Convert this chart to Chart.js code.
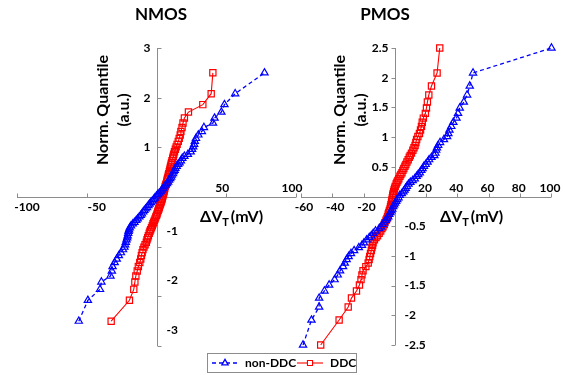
<!DOCTYPE html>
<html>
<head>
<meta charset="utf-8">
<script src="https://cdn.jsdelivr.net/npm/chart.js@4.4.1/dist/chart.umd.min.js"></script>
<style>
  html, body { margin: 0; padding: 0; background: #fff; }
  #wrap { position: relative; width: 565px; height: 375px; }
  #wrap canvas { position: absolute; left: 0; top: 0; }
</style>
</head>
<body>
<div id="wrap">
  <canvas id="nmos" width="565" height="375"></canvas>
  <canvas id="pmos" width="565" height="375"></canvas>
</div>
<script>
// normal quantiles (a.u.), shared by all four series, lowest first
const quantile = [
  -2.50, -2.08, -1.86, -1.71, -1.59, -1.49, -1.40, -1.32, -1.25, -1.18,
  -1.12, -1.06, -1.01, -0.96, -0.91, -0.86, -0.82, -0.78, -0.73, -0.69,
  -0.66, -0.62, -0.58, -0.54, -0.51, -0.47, -0.44, -0.40, -0.37, -0.34,
  -0.30, -0.27, -0.24, -0.21, -0.17, -0.14, -0.11, -0.08, -0.05, -0.02,
  0.02, 0.05, 0.08, 0.11, 0.14, 0.17, 0.21, 0.24, 0.27, 0.30,
  0.34, 0.37, 0.40, 0.44, 0.47, 0.51, 0.54, 0.58, 0.62, 0.66,
  0.69, 0.73, 0.78, 0.82, 0.86, 0.91, 0.96, 1.01, 1.06, 1.12,
  1.18, 1.25, 1.32, 1.40, 1.49, 1.59, 1.71, 1.86, 2.08, 2.50
];

// delta VT in mV, sorted, one per quantile
const nmosNonDdc = [
  -55.7, -49.2, -40.5, -39.5, -33.0, -32.0, -31.5, -30.0, -28.5, -27.0,
  -25.5, -24.0, -23.0, -22.5, -22.0, -21.5, -21.0, -20.7, -20.3, -20.0,
  -19.7, -19.2, -18.3, -17.0, -15.8, -14.5, -13.5, -12.3, -11.3, -10.5,
  -9.5, -8.7, -7.8, -6.8, -5.8, -5.0, -4.0, -3.0, -2.0, -1.2,
  0.0, 1.0, 2.0, 3.0, 3.8, 4.8, 5.5, 6.5, 7.5, 8.3,
  9.0, 9.8, 10.5, 11.0, 11.8, 12.3, 13.0, 13.5, 14.5, 15.5,
  16.5, 17.5, 18.5, 20.0, 22.5, 24.5, 25.5, 26.3, 27.0, 27.5,
  28.3, 30.0, 32.5, 34.0, 40.5, 41.6, 46.5, 48.7, 56.4, 77.4
];
const nmosDdc = [
  -32.5, -19.4, -16.3, -15.5, -14.8, -13.8, -13.0, -12.0, -11.3, -10.8,
  -10.3, -9.7, -9.0, -8.2, -7.3, -6.8, -6.3, -5.8, -5.2, -4.7,
  -4.2, -3.6, -3.0, -2.5, -2.0, -1.5, -1.0, -0.5, 0.0, 0.4,
  0.8, 1.2, 1.6, 2.0, 2.4, 2.8, 3.2, 3.5, 3.9, 4.2,
  4.5, 4.8, 5.1, 5.4, 5.6, 5.9, 6.2, 6.6, 7.0, 7.3,
  7.6, 7.9, 8.2, 8.5, 8.8, 9.2, 9.5, 9.8, 10.1, 10.5,
  10.8, 11.1, 11.6, 12.0, 12.4, 12.9, 13.5, 14.1, 14.8, 15.6,
  16.3, 17.0, 17.5, 18.3, 19.0, 20.0, 22.9, 33.2, 39.2, 40.4
];
const pmosNonDdc = [
  -58.7, -53.3, -48.4, -48.4, -45.0, -42.0, -38.5, -36.5, -35.0, -33.1,
  -32.0, -30.8, -29.5, -28.0, -26.0, -23.0, -21.0, -19.7, -18.0, -16.3,
  -15.0, -13.8, -12.3, -10.0, -8.8, -7.8, -6.8, -5.8, -5.0, -4.2,
  -3.5, -2.8, -2.2, -1.6, -1.0, -0.4, 0.2, 0.9, 1.6, 2.4,
  3.2, 4.5, 5.5, 6.3, 7.0, 7.8, 8.8, 10.0, 11.5, 12.8,
  14.0, 15.0, 16.0, 17.0, 17.8, 18.7, 19.8, 21.0, 22.0, 23.5,
  25.3, 26.0, 26.5, 27.0, 27.8, 29.0, 31.5, 33.5, 34.3, 35.0,
  36.2, 37.5, 39.5, 40.5, 41.6, 44.2, 46.3, 48.0, 50.1, 100.3
];
const pmosDdc = [
  -47.4, -35.6, -29.8, -27.7, -24.5, -22.6, -21.6, -21.0, -20.3, -18.5,
  -17.0, -16.4, -16.0, -15.5, -15.0, -14.6, -14.2, -13.9, -13.0, -12.0,
  -11.0, -10.0, -9.0, -8.2, -7.5, -6.7, -6.3, -5.6, -5.0, -4.6,
  -4.2, -3.8, -3.4, -3.0, -2.7, -2.4, -2.1, -1.9, -1.7, -1.5,
  -1.3, -1.0, -0.7, -0.4, -0.1, 0.3, 0.9, 1.4, 2.0, 2.6,
  3.3, 3.9, 4.6, 5.2, 5.8, 6.5, 7.1, 7.8, 8.6, 9.3,
  9.9, 10.7, 11.6, 12.3, 13.0, 13.5, 14.0, 14.8, 15.8, 16.5,
  17.1, 17.6, 18.3, 19.6, 20.3, 20.9, 21.8, 23.5, 27.1, 28.8
];

const seriesNames = ['non-DDC', 'DDC'];

// axis ticks
const nmosXTicks = [-100, -50, 0, 50, 100];
const nmosYTicks = [-3, -2, -1, 0, 1, 2, 3];
const pmosXTicks = [-60, -40, -20, 0, 20, 40, 60, 80, 100];
const pmosYTicks = [-2.5, -2, -1.5, -1, -0.5, 0, 0.5, 1, 1.5, 2, 2.5];

const BLUE = '#0000ff';
const RED = '#ff0000';
const AXIS = '#8c8c8c';
const FONT = 'Lato, "Open Sans", sans-serif';

function pts(xs) {
  return quantile.map((q, i) => ({ x: xs[i], y: q }));
}

function datasets(nonDdc, ddc) {
  return [
    {
      label: seriesNames[0], data: pts(nonDdc), clip: false,
      showLine: true, borderColor: BLUE, borderWidth: 1.3, borderDash: [4, 3],
      pointStyle: 'triangle', pointRadius: 4.2, pointBorderWidth: 1.2,
      pointBorderColor: BLUE, pointBackgroundColor: 'rgba(0,0,0,0)'
    },
    {
      label: seriesNames[1], data: pts(ddc), clip: false,
      showLine: true, borderColor: RED, borderWidth: 1.1,
      pointStyle: 'rect', pointRadius: 4.4, pointBorderWidth: 1.2,
      pointBorderColor: RED, pointBackgroundColor: 'rgba(0,0,0,0)'
    }
  ];
}

function crisp(v) { return Math.round(v) + 0.5; }

// axes crossing at zero, drawn by hand so labels can sit either side
const crossAxes = {
  id: 'crossAxes',
  beforeDatasetsDraw(chart, args, o) {
    const ctx = chart.ctx, xs = chart.scales.x, ys = chart.scales.y;
    const x0 = crisp(xs.getPixelForValue(0));
    const y0 = crisp(ys.getPixelForValue(0));
    ctx.save();
    ctx.strokeStyle = AXIS;
    ctx.lineWidth = 1;
    ctx.beginPath();
    ctx.moveTo(Math.round(xs.left), y0); ctx.lineTo(Math.round(xs.right), y0);
    ctx.moveTo(x0, Math.round(ys.top)); ctx.lineTo(x0, Math.round(ys.bottom));
    o.xTicks.forEach(v => {
      const px = crisp(xs.getPixelForValue(v));
      ctx.moveTo(px, y0); ctx.lineTo(px, y0 - 4);
    });
    o.yTicks.forEach(v => {
      const py = crisp(ys.getPixelForValue(v));
      ctx.moveTo(x0, py); ctx.lineTo(x0 + o.yTickDir * 4, py);
    });
    ctx.stroke();

    ctx.fillStyle = '#000';
    ctx.font = 'bold 12px ' + FONT;
    ctx.textBaseline = 'middle';
    ctx.textAlign = 'center';
    o.xTicks.forEach(v => {
      if (v === 0) return;
      const px = xs.getPixelForValue(v);
      if (v < 0) ctx.fillText(String(v), px + o.negXShift, y0 + 10);
      else ctx.fillText(String(v), px + o.posXShift, y0 - 9);
    });
    o.yTicks.forEach(v => {
      if (v === 0) return;
      const py = ys.getPixelForValue(v);
      if (v > 0) {
        ctx.textAlign = 'right';
        ctx.fillText(String(v), x0 - 7, py);
      } else {
        ctx.textAlign = 'left';
        ctx.fillText(String(v), x0 + 9, py + o.negYShift);
      }
    });
    ctx.restore();
  },
  afterDraw(chart, args, o) {
    const ctx = chart.ctx;
    ctx.save();
    ctx.fillStyle = '#000';
    ctx.textBaseline = 'middle';

    ctx.font = 'bold 17px ' + FONT;
    ctx.textAlign = 'center';
    ctx.fillText(o.title, o.titleX, 15);

    // y title, two rotated lines
    ctx.font = 'bold 16px ' + FONT;
    ctx.save();
    ctx.translate(o.yTitleX, 110);
    ctx.rotate(-Math.PI / 2);
    ctx.fillText('Norm. Quantile', 0, 0);
    ctx.fillText('(a.u.)', 0, 21);
    ctx.restore();

    // x title with subscript T
    ctx.textAlign = 'left';
    let x = o.xTitleX;
    const y = 217;
    ctx.font = 'bold 16px ' + FONT;
    ctx.fillText('ΔV', x, y);
    x += ctx.measureText('ΔV').width;
    ctx.font = 'bold 11px ' + FONT;
    ctx.fillText('T', x, y + 5);
    x += ctx.measureText('T').width + 2;
    ctx.font = 'bold 16px ' + FONT;
    ctx.fillText('(mV)', x, y);
    ctx.restore();
  }
};

// boxed legend under both panels
const boxLegend = {
  id: 'boxLegend',
  afterDraw(chart, args, o) {
    if (!o.show) return;
    const ctx = chart.ctx;
    const ds = chart.data.datasets;
    ctx.save();
    ctx.strokeStyle = '#8c8c8c';
    ctx.lineWidth = 1;
    ctx.strokeRect(207.5, 353.5, 149, 19);
    const cy = 363;
    const items = [
      { d: ds[0], x1: 212, x2: 238, tx: 245 },
      { d: ds[1], x1: 297, x2: 323, tx: 330 }
    ];
    items.forEach(it => {
      ctx.strokeStyle = it.d.borderColor;
      ctx.lineWidth = it.d.borderWidth;
      ctx.setLineDash(it.d.borderDash || []);
      ctx.beginPath();
      ctx.moveTo(it.x1, cy); ctx.lineTo(it.x2, cy);
      ctx.stroke();
      ctx.setLineDash([]);
      ctx.fillStyle = '#fff';
      Chart.helpers.drawPoint(ctx, {
        pointStyle: it.d.pointStyle, radius: 3.6,
        rotation: 0, borderWidth: 1
      }, (it.x1 + it.x2) / 2, cy);
      ctx.fillStyle = '#000';
      ctx.font = 'bold 12px ' + FONT;
      ctx.textAlign = 'left';
      ctx.textBaseline = 'middle';
      ctx.fillText(it.d.label, it.tx, cy);
    });
    ctx.restore();
  }
};

function panel(id, cfg) {
  return new Chart(document.getElementById(id), {
    type: 'scatter',
    data: { datasets: datasets(cfg.nonDdc, cfg.ddc) },
    options: {
      responsive: false,
      animation: false,
      events: [],
      layout: { padding: cfg.padding },
      scales: {
        x: { type: 'linear', display: false, min: cfg.xMin, max: cfg.xMax },
        y: { type: 'linear', display: false, min: cfg.yMin, max: cfg.yMax }
      },
      plugins: {
        legend: { display: false },
        tooltip: { enabled: false },
        crossAxes: cfg.axes,
        boxLegend: { show: cfg.legend }
      }
    },
    plugins: [crossAxes, boxLegend]
  });
}

panel('nmos', {
  nonDdc: nmosNonDdc, ddc: nmosDdc,
  padding: { left: 17, right: 269, top: 48, bottom: 29 },
  xMin: -100, xMax: 100, yMin: -3, yMax: 3,
  legend: false,
  axes: {
    xTicks: nmosXTicks, yTicks: nmosYTicks, yTickDir: 1,
    negXShift: 10, posXShift: -4, negYShift: -16,
    title: 'NMOS', titleX: 161, yTitleX: 103, xTitleX: 200
  }
});

panel('pmos', {
  nonDdc: pmosNonDdc, ddc: pmosDdc,
  padding: { left: 301, right: 14, top: 48, bottom: 30 },
  xMin: -60, xMax: 100, yMin: -2.5, yMax: 2.5,
  legend: true,
  axes: {
    xTicks: pmosXTicks, yTicks: pmosYTicks, yTickDir: -1,
    negXShift: 3, posXShift: -1, negYShift: 0,
    title: 'PMOS', titleX: 385, yTitleX: 340, xTitleX: 440
  }
});
</script>
</body>
</html>
